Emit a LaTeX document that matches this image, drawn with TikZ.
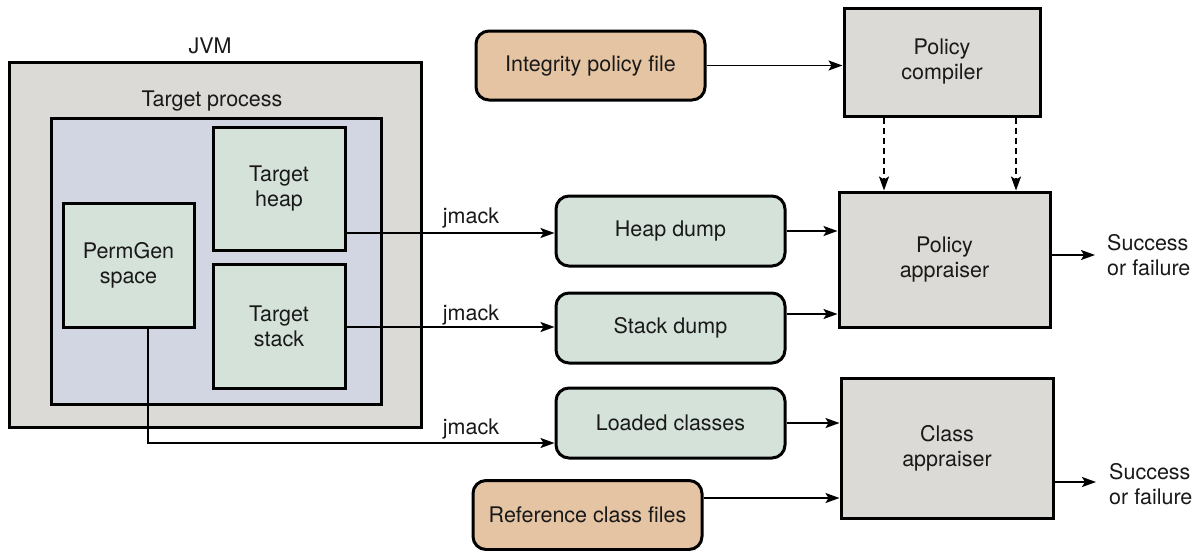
\documentclass[tikz,border=0pt]{standalone}
\usepackage{fontspec}
\setmainfont{TeX Gyre Heros}
\usetikzlibrary{arrows.meta,calc}
\definecolor{boxgray}{HTML}{DCDAD6}
\definecolor{procblue}{HTML}{D2D6E2}
\definecolor{memgreen}{HTML}{D5E2DA}
\definecolor{fileorange}{HTML}{E5C4A3}
\tikzset{
  base/.style={draw=black, line width=3pt, inner sep=0pt, align=center,
    font=\fontsize{21.5}{25}\selectfont, text=black!90},
  graybox/.style={base, fill=boxgray},
  memblock/.style={base, fill=memgreen},
  dumpbox/.style={base, fill=memgreen, rounded corners=13pt},
  filebox/.style={base, fill=fileorange, rounded corners=13pt},
  lbl/.style={font=\fontsize{21.5}{25}\selectfont, text=black!90, inner sep=0pt, align=left},
  arr/.style={line width=1.8pt, -{Stealth[length=14pt,width=10pt,inset=3pt]}},
}
\begin{document}
\begin{tikzpicture}[x=1pt,y=-1pt]
\useasboundingbox (0,0) rectangle (1198,550);

% JVM and target process containers
\node[graybox, minimum width=412, minimum height=365] (jvm) at (215,244.5) {};
\node[lbl] (jvmlbl) at (210,46) {JVM};
\node[base, fill=procblue, minimum width=330, minimum height=286] (proc) at (216,261) {};
\node[lbl] (proclbl) at (212,101) {Target process};

% memory areas of the target process
\node[memblock, minimum width=132, minimum height=123] (heap) at (279,188.5) {Target\\heap};
\node[memblock, minimum width=132, minimum height=124] (stack) at (279,326) {Target\\stack};
\node[memblock, minimum width=131, minimum height=124] (perm) at (128.5,265) {PermGen\\space};

% dumps
\node[dumpbox, minimum width=229, minimum height=70] (heapdump) at (670.5,231) {Heap dump};
\node[dumpbox, minimum width=229, minimum height=70] (stackdump) at (670.5,328) {Stack dump};
\node[dumpbox, minimum width=229, minimum height=70] (loaded) at (670.5,423) {Loaded classes};

% input files
\node[filebox, minimum width=229, minimum height=69] (policyfile) at (590.5,65.5) {Integrity policy file};
\node[filebox, minimum width=229, minimum height=69] (reffiles) at (587.5,515) {Reference class files};

% processing stages
\node[graybox, minimum width=196, minimum height=108] (compiler) at (942,62) {Policy\\compiler};
\node[graybox, minimum width=211, minimum height=135] (pappr) at (944.5,259.5) {Policy\\appraiser};
\node[graybox, minimum width=212, minimum height=140] (cappr) at (947,448) {Class\\appraiser};

% results
\node[lbl, anchor=west] (pres) at (1107,255) {Success\\or failure};
\node[lbl, anchor=west] (cres) at (1109,484) {Success\\or failure};

% jmack extraction arrows
\path (heap.east) ++(0,44.5) coordinate (h0);
\draw[arr] (h0) -- (h0 -| heapdump.west);
\node[lbl] (j1) at (471,218) {jmack};
\path (stack.east) ++(0,1) coordinate (s0);
\draw[arr] (s0) -- (s0 -| stackdump.west);
\node[lbl] (j2) at (471,315) {jmack};
\path (perm.south) ++(19.5,0) coordinate (p0);
\path (loaded.west) ++(0,20) coordinate (p1);
\draw[arr] (p0) |- (p1);
\node[lbl] (j3) at (471,429) {jmack};

% inputs to the appraisers
\draw[arr] (policyfile.east) -- (policyfile.east -| compiler.west);
\draw[arr] (heapdump.east) -- (heapdump.east -| pappr.west);
\path (stackdump.east) ++(0,-14) coordinate (s1);
\draw[arr] (s1) -- (s1 -| pappr.west);
\draw[arr] (loaded.east) -- (loaded.east -| cappr.west);
\path (reffiles.east) ++(0,-17) coordinate (r1);
\draw[arr] (r1) -- (r1 -| cappr.west);

% compiled policy feeds the policy appraiser
\path (compiler.south) ++(-58,0) coordinate (c1);
\path (compiler.south) ++(74,0) coordinate (c2);
\draw[arr, dash pattern=on 6pt off 4pt] (c1) -- (c1 |- pappr.north);
\draw[arr, dash pattern=on 6pt off 4pt] (c2) -- (c2 |- pappr.north);

% verdicts
\path (pappr.east) ++(0,-4.5) coordinate (o1);
\draw[arr] (o1) -- ($(o1 -| pres.west)+(-12,0)$);
\path (cappr.east) ++(0,34) coordinate (o2);
\draw[arr] (o2) -- ($(o2 -| cres.west)+(-13,0)$);
\end{tikzpicture}
\end{document}
